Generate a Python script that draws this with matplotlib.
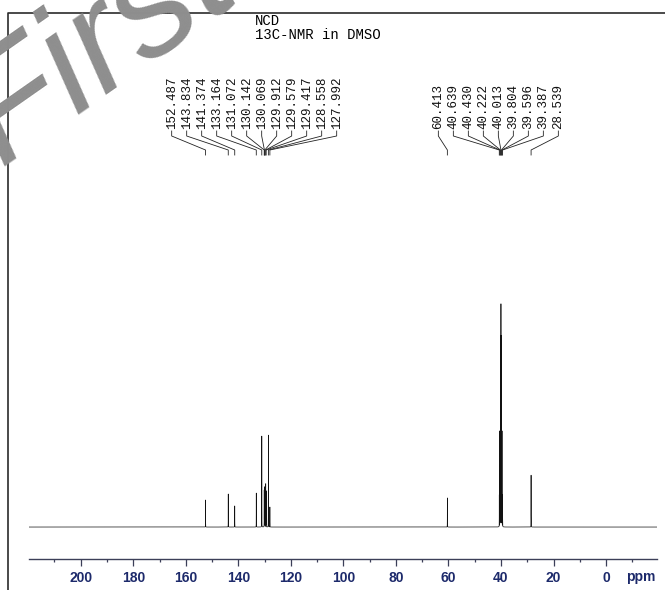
import numpy as np
import matplotlib.pyplot as plt
from matplotlib.lines import Line2D
from matplotlib import transforms

# peak table: shift (ppm) and relative height (tallest = 100)
arom_ppm = [152.487, 143.834, 141.374, 133.164, 131.072, 130.142,
            130.069, 129.912, 129.579, 129.417, 128.558, 127.992]
arom_int = [12.2, 14.9, 9.5, 15.3, 41.0, 16.2, 17.1, 18.0, 19.4, 16.2, 41.4, 9.0]

aliph_ppm = [60.413, 40.639, 40.430, 40.222, 40.013, 39.804, 39.596, 39.387, 28.539]
aliph_int = [13.1, 14.3, 42.9, 85.7, 100.0, 85.7, 42.9, 14.3, 23.4]

title_lines = ["NCD", "13C-NMR in DMSO"]
tick_major = [200, 180, 160, 140, 120, 100, 80, 60, 40, 20, 0]

W, H = 665, 590
fig = plt.figure(figsize=(W / 100, H / 100), dpi=100)
ax = fig.add_axes([29 / W, 1 - 559 / H, (657 - 29) / W, (559 - 60) / H])

# build the spectrum as a sum of narrow lorentzians
x = np.linspace(219.7, -19.4, 160001)
y = np.zeros_like(x)
hw = 0.012
for p, h in zip(arom_ppm + aliph_ppm, arom_int + aliph_int):
    y += h * hw**2 / ((x - p)**2 + hw**2)
ax.plot(x, y, color='#111111', lw=0.5)

ax.set_xlim(219.7, -19.4)
ax.set_ylim(-14.4, 210.4)
for s in ['top', 'left', 'right']:
    ax.spines[s].set_visible(False)
axcol = '#3c3f58'
ax.spines['bottom'].set_color(axcol)
ax.spines['bottom'].set_linewidth(1.0)
ax.set_yticks([])
ax.set_xticks(tick_major)
ax.set_xticks(np.arange(210, -20, -10), minor=True)
ax.tick_params(axis='x', which='major', direction='out', length=5, width=0.9,
               color=axcol, pad=4, labelsize=10, labelcolor='#1d2a6b')
ax.tick_params(axis='x', which='minor', direction='out', length=2.5, width=0.9, color=axcol)
for lab in ax.get_xticklabels():
    lab.set_fontfamily('Liberation Sans')
    lab.set_fontweight('bold')
ax.text(-13.3, -18 / 499, 'ppm', transform=transforms.blended_transform_factory(ax.transData, ax.transAxes),
        ha='center', va='center', fontsize=10, color='#1d2a6b', family='Liberation Sans', fontweight='bold')

# peak labels with connector lines (x in ppm, y in figure fraction)
blend = transforms.blended_transform_factory(ax.transData, fig.transFigure)
step = 15 / 2.6265

def fy(py):
    return 1 - py / H

def label_group(ppms):
    n = len(ppms)
    centre = np.mean(ppms)
    for i, p in enumerate(ppms):
        lx = centre + ((n - 1) / 2 - i) * step
        ax.text(lx, fy(129), '%.3f' % p, transform=blend, rotation=90,
                ha='center', va='bottom', fontsize=9, family='Liberation Mono',
                color='#111111', clip_on=False)
        ax.add_line(Line2D([lx, lx, p, p], [fy(131), fy(136), fy(150), fy(155)],
                           transform=blend, color='#222222', lw=0.6, clip_on=False))

label_group(arom_ppm)
label_group(aliph_ppm)

fig.text(255 / W, fy(21), title_lines[0], va='center', ha='left', fontsize=10, family='Liberation Mono')
fig.text(255 / W, fy(35), title_lines[1], va='center', ha='left', fontsize=10, family='Liberation Mono')

# outer frame
fig.add_artist(Line2D([8 / W, 8 / W, 1.0], [0.0, fy(13), fy(13)], transform=fig.transFigure,
                      color='#2b2b2b', lw=1.2))

# watermark
fig.text(0 / W, fy(166), 'First', rotation=35, rotation_mode='anchor', ha='left', va='baseline',
         fontsize=110, style='italic', family='Liberation Sans', color='#8e8e8e', zorder=10)

fig.savefig('out.png', dpi=100)
